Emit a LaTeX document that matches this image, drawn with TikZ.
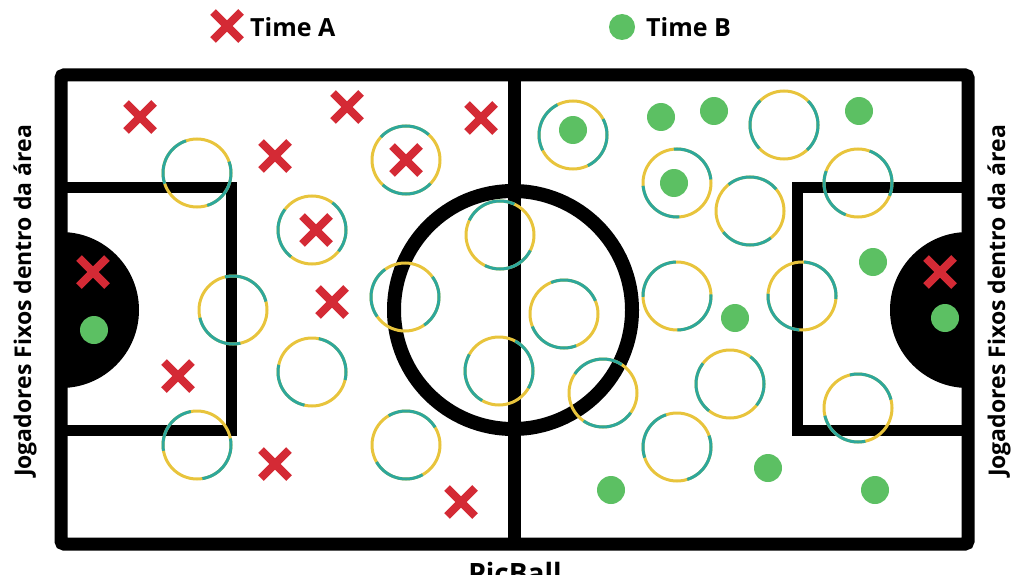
\documentclass[tikz,border=0pt]{standalone}
\usepackage{fontspec}
\setmainfont{Open Sans}
\usepackage{xcolor}
\usetikzlibrary{positioning, calc}
\definecolor{timeared}{HTML}{D42A35}
\definecolor{timebgreen}{HTML}{5CC063}
\definecolor{ringyellow}{HTML}{E8C43C}
\definecolor{ringteal}{HTML}{2EA79B}

\begin{document}
\begin{tikzpicture}[x=1pt, y=-1pt, every node/.style={font=\bfseries, inner sep=0pt},
    fieldline/.style={line width=13pt},
    boxline/.style={line width=11pt},
    xmark/.style={timeared, line width=8pt},
    ringhalf/.style={ringyellow, line width=3pt},
    ringother/.style={ringteal, line width=3pt, dash pattern=on 53pt off 53pt}]
  \useasboundingbox (0,0) rectangle (1014,575);
  \clip (0,0) rectangle (1014,575);
  % Legend
  \draw[xmark] (213,12) -- (241,40) (213,40) -- (241,12);
  \node[anchor=west, font=\bfseries\fontsize{25}{27}\selectfont] (legendA) at (250,27) {Time A};
  \fill[timebgreen] (622,27) circle (13);
  \node[anchor=west, font=\bfseries\fontsize{25}{27}\selectfont] (legendB) at (646,27) {Time B};
  % Field: border, half line, centre circle, areas
  \draw[fieldline, rounded corners=3pt] (61,75) rectangle (968,544);
  \draw[fieldline] (514,75) -- (514,544);
  \draw[fieldline, line width=14pt] (513,310) circle (119);
  \draw[boxline] (61,187) -- (231,187) -- (231,430) -- (61,430);
  \draw[boxline] (968,187) -- (797,187) -- (797,430) -- (968,430);
  % Goal areas
  \fill (61,232) arc[start angle=-90, end angle=90, radius=78] -- cycle;
  \fill (968,232) arc[start angle=-90, end angle=-270, radius=78] -- cycle;
  % Rings (zones)
  \foreach \x/\y/\p in {197/173/10, 233/310/60, 312/230/30, 406/160/80, 312/372/45,
      197/445/5, 406/445/70, 405/297/20, 500/235/90, 499/371/35,
      573/135/15, 677/183/55, 784/125/25, 750/211/75, 858/183/40, 564/314/65,
      677/296/0, 802/296/50, 603/393/85, 730/384/30, 858/408/60, 677/447/10} {
    \draw[ringhalf] (\x,\y) circle (34);
    \draw[ringother, dash phase=\p pt] (\x,\y) circle (34);
  }
  % Time A players
  \foreach \x/\y in {140/117, 347/107, 481/118, 275/156, 406/160, 316/230,
      332/302, 178/376, 275/464, 461/502, 93/272, 940/272} {
    \draw[xmark, shift={(\x,\y)}] (-14,-14) -- (14,14) (-14,14) -- (14,-14);
  }
  % Time B players
  \foreach \x/\y in {573/130, 661/117, 714/111, 859/111, 674/183, 873/262,
      735/318, 611/490, 768/468, 875/490, 94/330, 945/318} {
    \fill[timebgreen] (\x,\y) circle (14);
  }
  % Side labels and title
  \node[rotate=90, font=\bfseries\fontsize{23}{25}\selectfont] (sideL) at (25,301) {Jogadores Fixos dentro da área};
  \node[rotate=90, font=\bfseries\fontsize{23}{25}\selectfont] (sideR) at (999,301) {Jogadores Fixos dentro da área};
  \node[anchor=base, font=\bfseries\fontsize{28}{30}\selectfont] (title) at (515,583) {PicBall};
\end{tikzpicture}
\end{document}
